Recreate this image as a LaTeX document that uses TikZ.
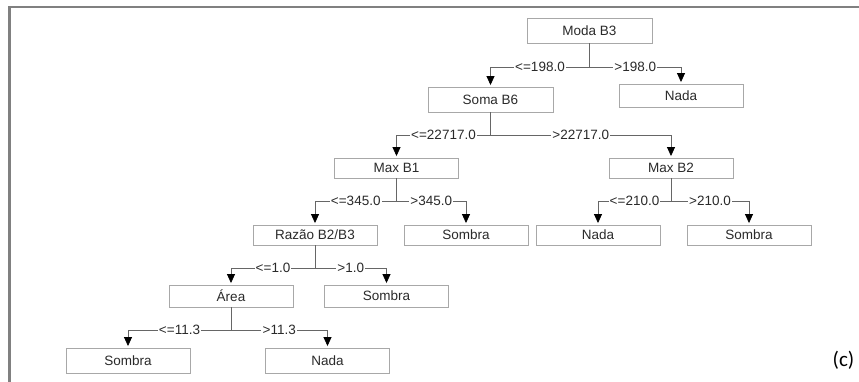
\documentclass[tikz,border=0pt]{standalone}
\usepackage{fontspec}
\setmainfont{Liberation Sans}
\newfontfamily\capfont{Carlito}
\usetikzlibrary{arrows.meta}
\definecolor{boxline}{HTML}{A8A8A8}
\definecolor{conline}{HTML}{666666}
\definecolor{txt}{HTML}{2A2A2A}
\definecolor{frame}{HTML}{808080}
\begin{document}
\begin{tikzpicture}[x=1pt,y=-1pt,
  box/.style={draw=boxline,line width=0.9pt,fill=white,minimum width=124pt,minimum height=22pt,inner sep=0pt,text=txt,font=\fontsize{13.5}{15}\selectfont},
  conn/.style={draw=conline,line width=0.8pt},
  arr/.style={conn,-{Triangle[width=8pt,length=9pt,color=black]},shorten >=1.5pt},
  lbl/.style={fill=white,inner sep=1.2pt,text=txt,font=\fontsize{13.5}{15}\selectfont}]
\useasboundingbox (0,0) rectangle (859,382);
\fill[white] (0,0) rectangle (859,382);
% frame
\draw[frame,line width=2.2pt] (9.5,382) -- (9.5,7) -- (859,7);
% nodes
\node[box,minimum width=125pt,minimum height=25pt] (moda) at (589.5,30.5) {Moda B3};
\node[box,minimum width=125pt,minimum height=25pt] (soma) at (490.5,99.5) {Soma B6};
\node[box,minimum height=23pt] (nada1) at (681,95.5) {Nada};
\node[box,minimum height=20pt] (maxb1) at (396.5,168) {Max B1};
\node[box,minimum height=20pt] (maxb2) at (671,168) {Max B2};
\node[box,minimum height=20pt] (razao) at (315,235) {Razão B2/B3};
\node[box,minimum height=20pt] (sombra1) at (466,235) {Sombra};
\node[box,minimum height=20pt] (nada2) at (598,235) {Nada};
\node[box,minimum height=20pt] (sombra2) at (749,235) {Sombra};
\node[box,minimum height=22pt] (area) at (231,296) {Área};
\node[box,minimum height=22pt] (sombra3) at (386.5,296) {Sombra};
\node[box,minimum height=25pt] (sombra4) at (128,360.5) {Sombra};
\node[box,minimum height=25pt] (nada3) at (327.5,360.5) {Nada};
% split coordinates
\coordinate (s1) at (moda.south |- 0,67);
\coordinate (s2) at (soma.south |- 0,135);
\coordinate (s3) at (maxb1.south |- 0,201);
\coordinate (s4) at (maxb2.south |- 0,201);
\coordinate (s5) at (razao.south |- 0,268);
\coordinate (s6) at (area.south |- 0,330);
% connectors
\draw[conn] (moda.south) -- (s1);
\draw[arr] (s1) -| node[lbl,pos=0.25] {<=198.0} (soma.north);
\draw[arr] (s1) -| node[lbl,pos=0.25] {>198.0} (nada1.north);
\draw[conn] (soma.south) -- (s2);
\draw[arr] (s2) -| node[lbl,pos=0.25] {<=22717.0} (maxb1.north);
\draw[arr] (s2) -| node[lbl,pos=0.25] {>22717.0} (maxb2.north);
\draw[conn] (maxb1.south) -- (s3);
\draw[arr] (s3) -| node[lbl,pos=0.25] {<=345.0} (razao.north);
\draw[arr] (s3) -| node[lbl,pos=0.25] {>345.0} (sombra1.north);
\draw[conn] (maxb2.south) -- (s4);
\draw[arr] (s4) -| node[lbl,pos=0.25] {<=210.0} (nada2.north);
\draw[arr] (s4) -| node[lbl,pos=0.25] {>210.0} (sombra2.north);
\draw[conn] (razao.south) -- (s5);
\draw[arr] (s5) -| node[lbl,pos=0.25] {<=1.0} (area.north);
\draw[arr] (s5) -| node[lbl,pos=0.25] {>1.0} (sombra3.north);
\draw[conn] (area.south) -- (s6);
\draw[arr] (s6) -| node[lbl,pos=0.25] {<=11.3} (sombra4.north);
\draw[arr] (s6) -| node[lbl,pos=0.25] {>11.3} (nada3.north);
% caption
\node[font=\capfont\fontsize{21}{24}\selectfont,inner sep=0pt] (cap) at (843.5,360) {(c)};
\end{tikzpicture}
\end{document}
